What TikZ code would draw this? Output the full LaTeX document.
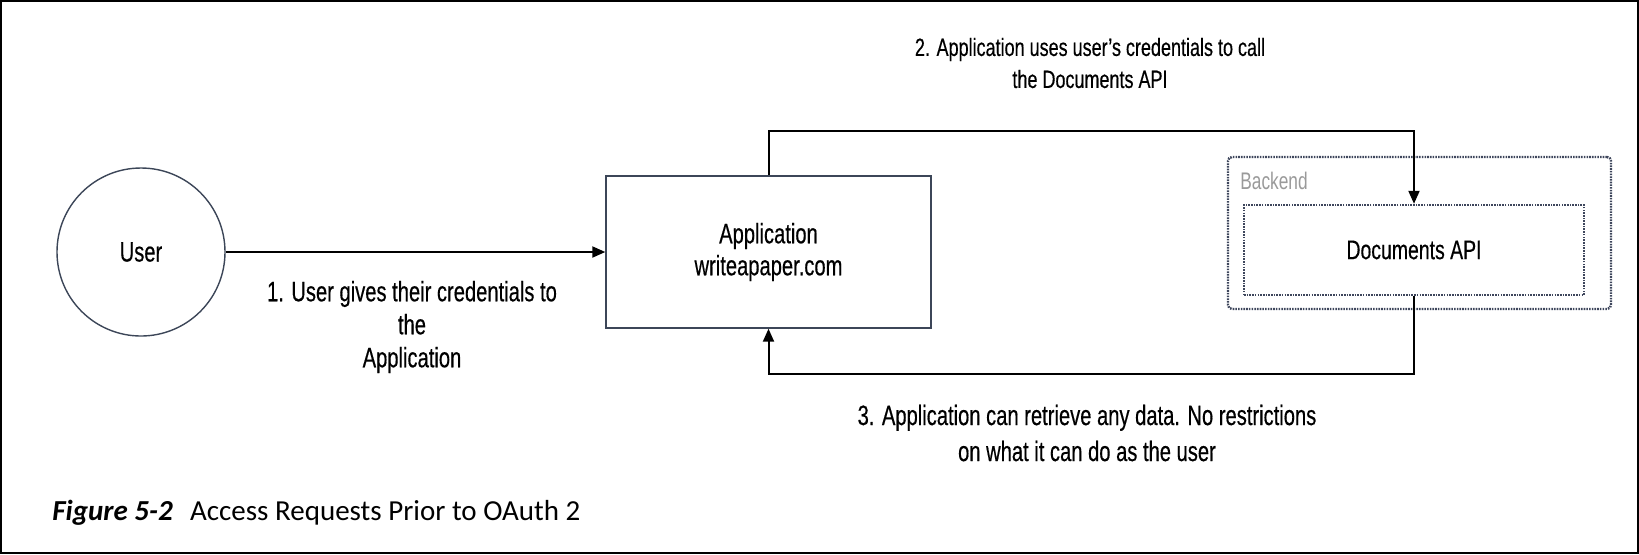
\documentclass[tikz,border=0pt]{standalone}
\usepackage{fontspec}
\usetikzlibrary{arrows.meta}
\newfontfamily\agency[FakeStretch=0.72,FakeBold=0.4]{Liberation Sans}
\newfontfamily\agencylight[FakeStretch=0.72]{Liberation Sans}
\newfontfamily\capfont{Carlito}
\definecolor{slate}{HTML}{3C4658}
\definecolor{dotblue}{HTML}{3E465C}
\definecolor{bkgray}{HTML}{9A9A9A}
\tikzset{
  lbl/.style={font=\agency\fontsize{14}{16.5}\selectfont, align=center, text=black},
  shapebox/.style={draw=slate, line width=0.7pt, font=\agency\fontsize{14}{16}\selectfont, align=center},
  dotbox/.style={draw=dotblue, line width=1.2pt, dash pattern=on 0.8pt off 0.55pt},
  arr/.style={draw=black, line width=1pt, -{Triangle[length=6.5pt,width=5.5pt]}},
}
\begin{document}
\begin{tikzpicture}[x=0.5pt,y=-0.5pt]
\useasboundingbox (0,0) rectangle (1639,554);
\draw[line width=1pt] (1,1) rectangle (1638,553);
% nodes
\node[shapebox, circle, minimum size=84pt, inner sep=0pt] (user) at (141,252) {User};
\node[shapebox, rectangle, minimum width=162.5pt, minimum height=76pt] (app) at (768.5,252) {Application\\writeapaper.com};
\node[dotbox, rectangle, rounded corners=2pt, minimum width=191.5pt, minimum height=76pt] (backend) at (1419.5,233) {};
\node[anchor=west, font=\agencylight\fontsize{12}{14}\selectfont, text=bkgray, inner sep=0pt] (bktext) at (1240,181) {Backend};
\node[dotbox, rectangle, minimum width=170pt, minimum height=45pt, font=\agency\fontsize{13.5}{16}\selectfont] (docs) at (1414,250) {Documents API};
% labels
\node[lbl] (l1) at (412,327) {1. User gives their credentials to\\the\\Application};
\node[lbl, font=\agency\fontsize{12.5}{16}\selectfont] (l2) at (1090,63) {2. Application uses user’s credentials to call\\the Documents API};
\node[lbl, font=\agency\fontsize{14}{18}\selectfont] (l3) at (1087,433) {3. Application can retrieve any data. No restrictions\\on what it can do as the user};
% connectors
\coordinate (t2) at (769,131);
\coordinate (b3) at (769,374);
\draw[arr] (user) -- (app);
\draw[arr] (app.north) -- (app.north |- t2) -| (docs.north);
\draw[arr] (docs.south) -- (docs.south |- b3) -| (app.south);
% caption
\node[anchor=west, font=\capfont\fontsize{14.5}{16}\selectfont, inner sep=0pt] (cap) at (52,513) {\textbf{\textit{Figure 5-2}}\hspace{0.6em}Access Requests Prior to OAuth 2};
\end{tikzpicture}
\end{document}
